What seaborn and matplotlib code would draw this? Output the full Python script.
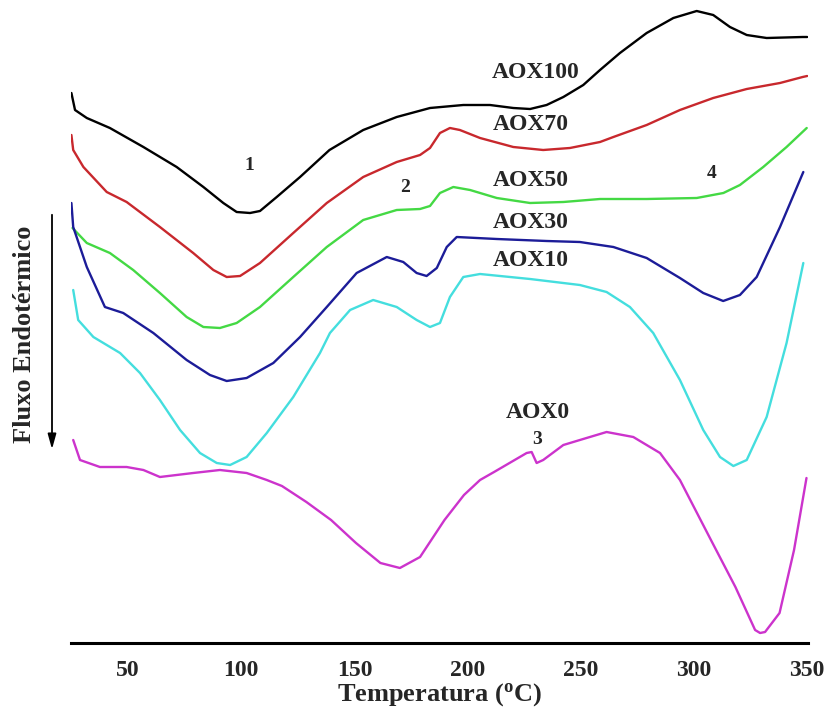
import matplotlib
matplotlib.use("Agg")
import matplotlib.pyplot as plt
import seaborn as sns
import pandas as pd

# DSC curves: temperature (C) and heat flux (arbitrary units)
t_aox100 = [25, 26.6, 31.8, 42.0, 56.8, 71.5, 83.3, 92.1, 98.0, 103.9, 108.3, 115.7, 126.0, 139,
            153.9, 168.7, 183.4, 198.1, 209.9, 220.2, 227.6, 234.9, 242.3, 251.1, 258.5, 267.3,
            279.1, 290.9, 301.2, 308.5, 315.9, 323.3, 332.1, 348.0, 350]
f_aox100 = [55.0, 53.3, 52.5, 51.5, 49.6, 47.6, 45.6, 44.0, 43.1, 43.0, 43.2, 44.6, 46.6, 49.3,
            51.3, 52.6, 53.5, 53.8, 53.8, 53.5, 53.4, 53.8, 54.6, 55.8, 57.3, 59.0,
            61.0, 62.5, 63.2, 62.8, 61.6, 60.8, 60.5, 60.6, 60.6]

t_aox70 = [25, 25.8, 30.3, 40.6, 49.4, 64.1, 78.8, 87.7, 93.6, 99.5, 108.3, 123.0, 137.8, 153.9,
           168.7, 179.0, 183.4, 187.8, 192.2, 196.6, 205.5, 220.2, 233.4, 245.2, 258.5, 264.4,
           279.1, 293.8, 308.5, 323.3, 338.0, 348.0, 350]
f_aox70 = [50.8, 49.3, 47.6, 45.1, 44.1, 41.6, 39.0, 37.3, 36.6, 36.7, 38.0, 41.0, 44.0, 46.6,
           48.1, 48.8, 49.5, 51.0, 51.5, 51.3, 50.5, 49.6, 49.3, 49.5, 50.1, 50.6,
           51.8, 53.3, 54.5, 55.4, 56.0, 56.6, 56.7]

t_aox50 = [25.5, 31.8, 42.0, 52.3, 64.1, 75.9, 83.3, 90.6, 98.0, 108.3, 123.0, 137.8, 153.9,
           168.7, 179.0, 183.4, 187.8, 193.7, 201.1, 212.9, 227.6, 242.3, 258.5, 279.1, 301.2,
           313.0, 320.3, 330.6, 340.9, 349.8]
f_aox50 = [41.5, 40.0, 39.0, 37.3, 35.0, 32.6, 31.6, 31.5, 32.0, 33.6, 36.6, 39.6, 42.3,
           43.3, 43.4, 43.7, 45.0, 45.6, 45.3, 44.5, 44.0, 44.1, 44.4, 44.4, 44.5,
           45.0, 45.8, 47.6, 49.6, 51.5]

t_aox30 = [25, 25.8, 31.8, 39.8, 47.9, 61.2, 75.9, 86.2, 93.6, 102.4, 114.2, 126.0, 137.8, 151.0,
           164.3, 171.6, 177.5, 181.9, 186.4, 190.8, 195.2, 212.9, 234.9, 249.6, 264.4, 279.1,
           293.8, 304.1, 312.9, 320.3, 327.7, 338.0, 348.3]
f_aox30 = [44.0, 41.6, 37.6, 33.6, 33.0, 31.0, 28.3, 26.8, 26.2, 26.5, 28.0, 30.6, 33.6, 37.0,
           38.6, 38.1, 37.0, 36.7, 37.5, 39.6, 40.6, 40.4, 40.2, 40.1, 39.6, 38.5,
           36.5, 35.0, 34.2, 34.8, 36.6, 41.6, 47.1]

t_aox10 = [25.8, 28.0, 34.7, 46.5, 55.3, 64.1, 73.0, 81.8, 89.2, 95.1, 102.4, 111.3, 123.0, 134.8,
           139.2, 148.1, 158.3, 168.7, 177.5, 183.4, 187.8, 192.2, 198.1, 205.5, 227.6, 249.6,
           261.4, 271.7, 282.0, 293.8, 304.1, 311.5, 317.4, 323.3, 332.1, 340.9, 348.3]
f_aox10 = [35.3, 32.3, 30.6, 29.0, 27.0, 24.3, 21.3, 19.0, 18.0, 17.8, 18.6, 21.0, 24.6, 29.0,
           31.0, 33.3, 34.3, 33.6, 32.3, 31.6, 32.0, 34.6, 36.6, 36.9, 36.4, 35.8,
           35.1, 33.6, 31.0, 26.3, 21.3, 18.6, 17.7, 18.3, 22.6, 30.0, 38.0]

t_aox0 = [25.8, 28.8, 37.6, 49.4, 56.8, 64.1, 78.8, 90.6, 102.4, 111.3, 118.0, 128.8, 139.7, 150.7,
          161.5, 170.1, 179.0, 189.8, 198.4, 205.5, 211.7, 226.1, 228.3, 230.5, 233.4, 242.3,
          249.6, 261.4, 273.2, 285.0, 293.8, 307.5, 318.3, 327.0, 329.2, 331.4, 337.8, 344.2, 349.7]
f_aox0 = [20.3, 18.3, 17.6, 17.6, 17.3, 16.6, 17.0, 17.3, 17.0, 16.3, 15.7, 14.1, 12.3, 10.0,
          8.0, 7.5, 8.6, 12.3, 14.8, 16.3, 17.1, 19.0, 19.1, 18.0, 18.3, 19.8,
          20.3, 21.1, 20.6, 19.0, 16.3, 10.3, 5.6, 1.3, 1.0, 1.1, 3.0, 9.3, 16.5]

series = {
    "AOX100": (t_aox100, f_aox100, "black"),
    "AOX70": (t_aox70, f_aox70, "#c8282d"),
    "AOX50": (t_aox50, f_aox50, "#44d944"),
    "AOX30": (t_aox30, f_aox30, "#1c1c98"),
    "AOX10": (t_aox10, f_aox10, "#44dede"),
    "AOX0": (t_aox0, f_aox0, "#cc33cc"),
}

# curve names and peak numbers: (text, temperature, flux)
curve_labels = [("AOX100", 230, 57.1), ("AOX70", 228, 51.9), ("AOX50", 228, 46.3),
                ("AOX30", 228, 42.1), ("AOX10", 228, 38.3), ("AOX0", 231, 23.1)]
peak_labels = [("1", 103.4, 47.8), ("2", 172.3, 45.5), ("3", 230.7, 20.3), ("4", 308, 47.0)]

sns.set_style("white")
plt.rcParams['font.family'] = ['Liberation Serif', 'DejaVu Serif']
plt.rcParams['font.weight'] = 'bold'
plt.rcParams['mathtext.fontset'] = 'custom'
plt.rcParams['mathtext.rm'] = 'Liberation Serif:bold'

fig = plt.figure(figsize=(8.33, 7.11), dpi=100)
ax = fig.add_axes([71.4 / 833, 1 - 643 / 711, (808.3 - 71.4) / 833, 643 / 711])

for name, (t, f, c) in series.items():
    df = pd.DataFrame({"T": t, "flux": f})
    sns.lineplot(data=df, x="T", y="flux", ax=ax, color=c, linewidth=1.7, sort=False,
                 solid_joinstyle="round", solid_capstyle="round")

for txt, x, y in curve_labels:
    ax.text(x, y, txt, ha="center", va="center", fontsize=17, fontweight="bold")
for txt, x, y in peak_labels:
    ax.text(x, y, txt, ha="center", va="center", fontsize=14, fontweight="bold")

ax.set_xlim(25, 350.5)
ax.set_ylim(0, 64.3)
ax.set_xticks([50, 100, 150, 200, 250, 300, 350])
ax.set_xticks([75, 125, 175, 225, 275, 325], minor=True)
ax.set_yticks([])
ax.set_ylabel("")
ax.set_xlabel("Temperatura ($\\mathregular{^{o}}$C)", fontsize=19, fontweight="bold", labelpad=0)
for s in ["top", "right", "left"]:
    ax.spines[s].set_visible(False)
ax.spines["bottom"].set_linewidth(2.2)
ax.spines["bottom"].set_color("black")
ax.tick_params(axis="x", which="major", direction="out", length=8, width=1.8, labelsize=17, pad=4)
ax.tick_params(axis="x", which="minor", direction="out", length=5, width=1.5)
ax.patch.set_alpha(0)

fig.text(25 / 833, 1 - 334 / 711, "Fluxo Endotérmico", rotation=90, ha="center", va="center",
         fontsize=19, fontweight="bold")
# arrow pointing down beside the label
ax.annotate("", xy=(52 / 833, 1 - 452 / 711), xytext=(52 / 833, 1 - 212 / 711),
            xycoords="figure fraction", textcoords="figure fraction",
            arrowprops=dict(arrowstyle="-|>,head_length=0.9,head_width=0.25", color="black", lw=1.3))

fig.savefig("out.png", dpi=100)
